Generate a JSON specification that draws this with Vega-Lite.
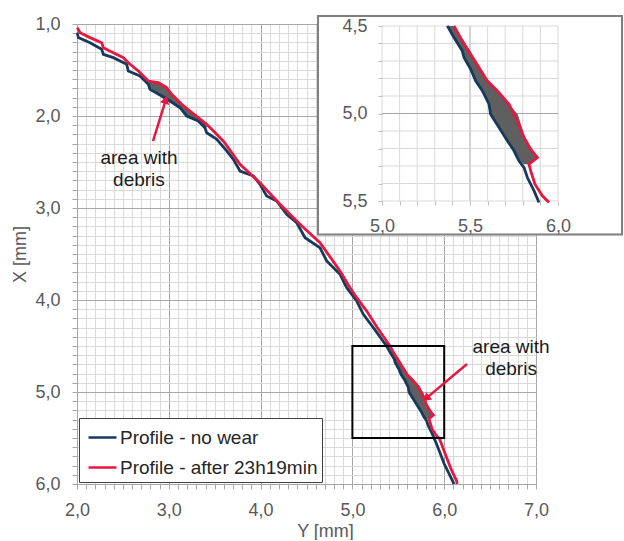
{
  "$schema": "https://vega.github.io/schema/vega-lite/v6.json",
  "padding": {"left": 11, "top": 14, "right": 0, "bottom": 0},
  "width": 459,
  "height": 460,
  "config": {
    "font": "Liberation Sans",
    "view": {"stroke": null},
    "axis": {"titleFontWeight": "normal", "labelColor": "#595959", "titleColor": "#595959", "labelFont": "Liberation Sans", "titleFont": "Liberation Sans"}
  },
  "datasets": {
    "curves": [
      {"series": "Profile - no wear", "Y": 2.003, "X": 1.094},
      {"series": "Profile - no wear", "Y": 2.014, "X": 1.148},
      {"series": "Profile - no wear", "Y": 2.142, "X": 1.203},
      {"series": "Profile - no wear", "Y": 2.269, "X": 1.275},
      {"series": "Profile - no wear", "Y": 2.287, "X": 1.330},
      {"series": "Profile - no wear", "Y": 2.396, "X": 1.366},
      {"series": "Profile - no wear", "Y": 2.541, "X": 1.438},
      {"series": "Profile - no wear", "Y": 2.559, "X": 1.511},
      {"series": "Profile - no wear", "Y": 2.686, "X": 1.565},
      {"series": "Profile - no wear", "Y": 2.777, "X": 1.656},
      {"series": "Profile - no wear", "Y": 2.795, "X": 1.710},
      {"series": "Profile - no wear", "Y": 2.922, "X": 1.783},
      {"series": "Profile - no wear", "Y": 3.013, "X": 1.837},
      {"series": "Profile - no wear", "Y": 3.122, "X": 1.910},
      {"series": "Profile - no wear", "Y": 3.195, "X": 2.000},
      {"series": "Profile - no wear", "Y": 3.321, "X": 2.054},
      {"series": "Profile - no wear", "Y": 3.394, "X": 2.127},
      {"series": "Profile - no wear", "Y": 3.413, "X": 2.182},
      {"series": "Profile - no wear", "Y": 3.520, "X": 2.250},
      {"series": "Profile - no wear", "Y": 3.631, "X": 2.380},
      {"series": "Profile - no wear", "Y": 3.703, "X": 2.471},
      {"series": "Profile - no wear", "Y": 3.776, "X": 2.598},
      {"series": "Profile - no wear", "Y": 3.921, "X": 2.652},
      {"series": "Profile - no wear", "Y": 3.993, "X": 2.742},
      {"series": "Profile - no wear", "Y": 4.066, "X": 2.870},
      {"series": "Profile - no wear", "Y": 4.175, "X": 2.924},
      {"series": "Profile - no wear", "Y": 4.284, "X": 3.069},
      {"series": "Profile - no wear", "Y": 4.393, "X": 3.160},
      {"series": "Profile - no wear", "Y": 4.484, "X": 3.323},
      {"series": "Profile - no wear", "Y": 4.647, "X": 3.432},
      {"series": "Profile - no wear", "Y": 4.720, "X": 3.576},
      {"series": "Profile - no wear", "Y": 4.865, "X": 3.721},
      {"series": "Profile - no wear", "Y": 4.938, "X": 3.866},
      {"series": "Profile - no wear", "Y": 5.047, "X": 4.011},
      {"series": "Profile - no wear", "Y": 5.119, "X": 4.156},
      {"series": "Profile - no wear", "Y": 5.250, "X": 4.330},
      {"series": "Profile - no wear", "Y": 5.371, "X": 4.499},
      {"series": "Profile - no wear", "Y": 5.409, "X": 4.566},
      {"series": "Profile - no wear", "Y": 5.456, "X": 4.642},
      {"series": "Profile - no wear", "Y": 5.466, "X": 4.680},
      {"series": "Profile - no wear", "Y": 5.504, "X": 4.747},
      {"series": "Profile - no wear", "Y": 5.532, "X": 4.813},
      {"series": "Profile - no wear", "Y": 5.570, "X": 4.870},
      {"series": "Profile - no wear", "Y": 5.608, "X": 4.947},
      {"series": "Profile - no wear", "Y": 5.617, "X": 5.004},
      {"series": "Profile - no wear", "Y": 5.665, "X": 5.080},
      {"series": "Profile - no wear", "Y": 5.712, "X": 5.156},
      {"series": "Profile - no wear", "Y": 5.750, "X": 5.213},
      {"series": "Profile - no wear", "Y": 5.778, "X": 5.270},
      {"series": "Profile - no wear", "Y": 5.807, "X": 5.309},
      {"series": "Profile - no wear", "Y": 5.826, "X": 5.366},
      {"series": "Profile - no wear", "Y": 5.864, "X": 5.442},
      {"series": "Profile - no wear", "Y": 5.892, "X": 5.509},
      {"series": "Profile - no wear", "Y": 5.918, "X": 5.568},
      {"series": "Profile - no wear", "Y": 6.000, "X": 5.780},
      {"series": "Profile - no wear", "Y": 6.100, "X": 5.985},
      {"series": "Profile - no wear", "Y": 6.105, "X": 6.000},
      {"series": "Profile - after 23h19min", "Y": 2.003, "X": 1.040},
      {"series": "Profile - after 23h19min", "Y": 2.033, "X": 1.094},
      {"series": "Profile - after 23h19min", "Y": 2.142, "X": 1.148},
      {"series": "Profile - after 23h19min", "Y": 2.269, "X": 1.203},
      {"series": "Profile - after 23h19min", "Y": 2.287, "X": 1.258},
      {"series": "Profile - after 23h19min", "Y": 2.396, "X": 1.312},
      {"series": "Profile - after 23h19min", "Y": 2.505, "X": 1.366},
      {"series": "Profile - after 23h19min", "Y": 2.559, "X": 1.421},
      {"series": "Profile - after 23h19min", "Y": 2.668, "X": 1.511},
      {"series": "Profile - after 23h19min", "Y": 2.777, "X": 1.620},
      {"series": "Profile - after 23h19min", "Y": 2.886, "X": 1.638},
      {"series": "Profile - after 23h19min", "Y": 2.977, "X": 1.692},
      {"series": "Profile - after 23h19min", "Y": 3.032, "X": 1.764},
      {"series": "Profile - after 23h19min", "Y": 3.141, "X": 1.873},
      {"series": "Profile - after 23h19min", "Y": 3.231, "X": 1.946},
      {"series": "Profile - after 23h19min", "Y": 3.321, "X": 2.018},
      {"series": "Profile - after 23h19min", "Y": 3.413, "X": 2.090},
      {"series": "Profile - after 23h19min", "Y": 3.522, "X": 2.199},
      {"series": "Profile - after 23h19min", "Y": 3.600, "X": 2.280},
      {"series": "Profile - after 23h19min", "Y": 3.776, "X": 2.525},
      {"series": "Profile - after 23h19min", "Y": 3.993, "X": 2.725},
      {"series": "Profile - after 23h19min", "Y": 4.211, "X": 2.960},
      {"series": "Profile - after 23h19min", "Y": 4.429, "X": 3.177},
      {"series": "Profile - after 23h19min", "Y": 4.647, "X": 3.377},
      {"series": "Profile - after 23h19min", "Y": 4.865, "X": 3.685},
      {"series": "Profile - after 23h19min", "Y": 4.974, "X": 3.866},
      {"series": "Profile - after 23h19min", "Y": 5.047, "X": 3.975},
      {"series": "Profile - after 23h19min", "Y": 5.156, "X": 4.120},
      {"series": "Profile - after 23h19min", "Y": 5.270, "X": 4.300},
      {"series": "Profile - after 23h19min", "Y": 5.409, "X": 4.499},
      {"series": "Profile - after 23h19min", "Y": 5.456, "X": 4.585},
      {"series": "Profile - after 23h19min", "Y": 5.504, "X": 4.661},
      {"series": "Profile - after 23h19min", "Y": 5.551, "X": 4.737},
      {"series": "Profile - after 23h19min", "Y": 5.598, "X": 4.813},
      {"series": "Profile - after 23h19min", "Y": 5.655, "X": 4.870},
      {"series": "Profile - after 23h19min", "Y": 5.722, "X": 4.947},
      {"series": "Profile - after 23h19min", "Y": 5.769, "X": 5.042},
      {"series": "Profile - after 23h19min", "Y": 5.807, "X": 5.137},
      {"series": "Profile - after 23h19min", "Y": 5.845, "X": 5.204},
      {"series": "Profile - after 23h19min", "Y": 5.883, "X": 5.251},
      {"series": "Profile - after 23h19min", "Y": 5.835, "X": 5.290},
      {"series": "Profile - after 23h19min", "Y": 5.845, "X": 5.328},
      {"series": "Profile - after 23h19min", "Y": 5.869, "X": 5.404},
      {"series": "Profile - after 23h19min", "Y": 5.911, "X": 5.470},
      {"series": "Profile - after 23h19min", "Y": 5.949, "X": 5.509},
      {"series": "Profile - after 23h19min", "Y": 6.027, "X": 5.714},
      {"series": "Profile - after 23h19min", "Y": 6.080, "X": 5.850},
      {"series": "Profile - after 23h19min", "Y": 6.136, "X": 5.967},
      {"series": "Profile - after 23h19min", "Y": 6.140, "X": 6.000}
    ],
    "debris": [
      {"g": "a", "X": 1.620, "lo": 2.740, "hi": 2.777},
      {"g": "a", "X": 1.638, "lo": 2.760, "hi": 2.886},
      {"g": "a", "X": 1.692, "lo": 2.800, "hi": 2.977},
      {"g": "a", "X": 1.764, "lo": 2.900, "hi": 3.032},
      {"g": "a", "X": 1.837, "lo": 3.013, "hi": 3.110},
      {"g": "a", "X": 1.910, "lo": 3.122, "hi": 3.190},
      {"g": "a", "X": 2.000, "lo": 3.195, "hi": 3.300},
      {"g": "a", "X": 2.054, "lo": 3.321, "hi": 3.370},
      {"g": "a", "X": 2.120, "lo": 3.394, "hi": 3.420},
      {"g": "b", "X": 4.460, "lo": 5.340, "hi": 5.380},
      {"g": "b", "X": 4.500, "lo": 5.371, "hi": 5.409},
      {"g": "b", "X": 4.566, "lo": 5.409, "hi": 5.452},
      {"g": "b", "X": 4.642, "lo": 5.456, "hi": 5.500},
      {"g": "b", "X": 4.747, "lo": 5.504, "hi": 5.557},
      {"g": "b", "X": 4.813, "lo": 5.532, "hi": 5.598},
      {"g": "b", "X": 4.870, "lo": 5.570, "hi": 5.655},
      {"g": "b", "X": 4.947, "lo": 5.608, "hi": 5.722},
      {"g": "b", "X": 5.004, "lo": 5.617, "hi": 5.771},
      {"g": "b", "X": 5.080, "lo": 5.665, "hi": 5.795},
      {"g": "b", "X": 5.156, "lo": 5.712, "hi": 5.817},
      {"g": "b", "X": 5.213, "lo": 5.750, "hi": 5.850},
      {"g": "b", "X": 5.251, "lo": 5.768, "hi": 5.883},
      {"g": "b", "X": 5.290, "lo": 5.805, "hi": 5.835}
    ],
    "box": [{"Y1": 5.0, "Y2": 6.0, "X1": 4.5, "X2": 5.5}],
    "insetGridY": [{"v": 5.0}, {"v": 5.1}, {"v": 5.2}, {"v": 5.3}, {"v": 5.4}, {"v": 5.5}, {"v": 5.6}, {"v": 5.7}, {"v": 5.8}, {"v": 5.9}, {"v": 6.0}],
    "insetGridX": [{"v": 4.5}, {"v": 4.6}, {"v": 4.7}, {"v": 4.8}, {"v": 4.9}, {"v": 5.0}, {"v": 5.1}, {"v": 5.2}, {"v": 5.3}, {"v": 5.4}, {"v": 5.5}]
  },
  "resolve": {"scale": {"x": "independent", "y": "independent"}, "axis": {"x": "independent", "y": "independent"}},
  "layer": [
    {
      "layer": [
        {
          "data": {"name": "debris"},
          "mark": {"type": "area", "orient": "horizontal", "color": "#5f5f5f"},
          "encoding": {
            "y": {"field": "X", "type": "quantitative", "scale": {"domain": [1, 6], "reverse": true, "nice": false, "zero": false}},
            "x": {"field": "lo", "type": "quantitative", "scale": {"domain": [2, 7], "nice": false, "zero": false}, "stack": null},
            "x2": {"field": "hi"},
            "detail": {"field": "g"}
          }
        },
        {
          "data": {"name": "curves"},
          "mark": {"type": "line", "strokeWidth": 2.8},
          "encoding": {
            "x": {
              "field": "Y", "type": "quantitative",
              "scale": {"domain": [2, 7], "nice": false, "zero": false},
              "axis": {
                "orient": "bottom", "title": "Y [mm]", "tickCount": 100,
                "values": [2.0,2.1,2.2,2.3,2.4,2.5,2.6,2.7,2.8,2.9,3.0,3.1,3.2,3.3,3.4,3.5,3.6,3.7,3.8,3.9,4.0,4.1,4.2,4.3,4.4,4.5,4.6,4.7,4.8,4.9,5.0,5.1,5.2,5.3,5.4,5.5,5.6,5.7,5.8,5.9,6.0,6.1,6.2,6.3,6.4,6.5,6.6,6.7,6.8,6.9,7.0],
                "labelExpr": "abs(datum.value - round(datum.value)) < 0.001 ? replace(format(datum.value, '.1f'), '.', ',') : ''",
                "labelOverlap": false, "labelFlush": false,
                "labelFontSize": 18, "labelPadding": 12,
                "tickSize": 5, "tickColor": "#a6a6a6", "domainColor": "#a6a6a6",
                "grid": true,
                "gridColor": {"condition": {"test": "abs(datum.value - round(datum.value)) < 0.001", "value": "#a6a6a6"}, "value": "#d9d9d9"},
                "titleFontSize": 18, "titleX": 248, "titleY": 52, "titleBaseline": "alphabetic", "titleAlign": "center"
              }
            },
            "y": {
              "field": "X", "type": "quantitative",
              "scale": {"domain": [1, 6], "reverse": true, "nice": false, "zero": false},
              "axis": {
                "orient": "left", "title": "X [mm]", "tickCount": 100,
                "values": [1.0,1.1,1.2,1.3,1.4,1.5,1.6,1.7,1.8,1.9,2.0,2.1,2.2,2.3,2.4,2.5,2.6,2.7,2.8,2.9,3.0,3.1,3.2,3.3,3.4,3.5,3.6,3.7,3.8,3.9,4.0,4.1,4.2,4.3,4.4,4.5,4.6,4.7,4.8,4.9,5.0,5.1,5.2,5.3,5.4,5.5,5.6,5.7,5.8,5.9,6.0],
                "labelExpr": "abs(datum.value - round(datum.value)) < 0.001 ? replace(format(datum.value, '.1f'), '.', ',') : ''",
                "labelOverlap": false, "labelFlush": false,
                "labelFontSize": 18, "labelPadding": 12,
                "tickSize": 5, "tickColor": "#a6a6a6", "domainColor": "#a6a6a6",
                "grid": true,
                "gridColor": {"condition": {"test": "abs(datum.value - round(datum.value)) < 0.001", "value": "#a6a6a6"}, "value": "#d9d9d9"},
                "titleFontSize": 18, "titleX": -57, "titleY": 230, "titleAngle": -90, "titleBaseline": "middle", "titleAlign": "center"
              }
            },
            "color": {
              "field": "series", "type": "nominal",
              "scale": {"domain": ["Profile - no wear", "Profile - after 23h19min"], "range": ["#163a5c", "#e8173f"]},
              "legend": {
                "title": null, "orient": "bottom-left", "offset": 2, "padding": 4,
                "strokeColor": "#404040", "fillColor": "white",
                "symbolType": "stroke", "symbolStrokeWidth": 2.5, "symbolSize": 784,
                "symbolOffset": 4, "labelOffset": 2, "rowPadding": 4,
                "labelFontSize": 19, "labelColor": "#262626", "labelLimit": 400
              }
            },
            "order": {"field": "X", "type": "quantitative"}
          }
        },
        {
          "data": {"name": "box"},
          "mark": {"type": "rect", "fillOpacity": 0, "stroke": "#000000", "strokeWidth": 2},
          "encoding": {
            "x": {"field": "Y1", "type": "quantitative"},
            "x2": {"field": "Y2"},
            "y": {"field": "X1", "type": "quantitative"},
            "y2": {"field": "X2"}
          }
        },
        {
          "data": {"values": [{}]},
          "mark": {"type": "rule", "color": "#e8173f", "strokeWidth": 2.5},
          "encoding": {
            "x": {"datum": 2.828, "type": "quantitative"},
            "y": {"datum": 2.272, "type": "quantitative"},
            "x2": {"datum": 2.975},
            "y2": {"datum": 1.80}
          }
        },
        {
          "data": {"values": [{}]},
          "mark": {"type": "rule", "color": "#e8173f", "strokeWidth": 2.5},
          "encoding": {
            "x": {"datum": 6.248, "type": "quantitative"},
            "y": {"datum": 4.696, "type": "quantitative"},
            "x2": {"datum": 5.79},
            "y2": {"datum": 5.08}
          }
        },
        {
          "data": {"values": [{}]},
          "mark": {"type": "point", "shape": "triangle-up", "filled": true, "color": "#e8173f", "size": 90, "angle": 17, "opacity": 1},
          "encoding": {
            "x": {"datum": 2.967, "type": "quantitative"},
            "y": {"datum": 1.824, "type": "quantitative"}
          }
        },
        {
          "data": {"values": [{}]},
          "mark": {"type": "point", "shape": "triangle-up", "filled": true, "color": "#e8173f", "size": 90, "angle": 230, "opacity": 1},
          "encoding": {
            "x": {"datum": 5.802, "type": "quantitative"},
            "y": {"datum": 5.070, "type": "quantitative"}
          }
        },
        {
          "data": {"values": [{}]},
          "mark": {"type": "text", "align": "center", "baseline": "alphabetic", "fontSize": 19, "lineHeight": 22, "color": "#1a1a1a", "text": ["area with", "debris"]},
          "encoding": {
            "x": {"datum": 2.675, "type": "quantitative"},
            "y": {"datum": 2.522, "type": "quantitative"}
          }
        },
        {
          "data": {"values": [{}]},
          "mark": {"type": "text", "align": "center", "baseline": "alphabetic", "fontSize": 19, "lineHeight": 22, "color": "#1a1a1a", "text": ["area with", "debris"]},
          "encoding": {
            "x": {"datum": 6.728, "type": "quantitative"},
            "y": {"datum": 4.576, "type": "quantitative"}
          }
        },
        {
          "data": {"values": [{}]},
          "mark": {"type": "rect", "fill": "white", "stroke": "#7f7f7f", "strokeWidth": 2},
          "encoding": {
            "x": {"datum": 4.625, "type": "quantitative"},
            "x2": {"datum": 7.937},
            "y": {"datum": 0.913, "type": "quantitative"},
            "y2": {"datum": 3.288}
          }
        }
      ]
    },
    {
      "layer": [
        {
          "data": {"name": "insetGridY"},
          "mark": {"type": "rule", "strokeWidth": 1},
          "encoding": {
            "x": {"field": "v", "type": "quantitative", "scale": {"domain": [5, 6], "range": [305, 481], "nice": false, "zero": false}},
            "y": {"datum": 4.5, "type": "quantitative", "scale": {"domain": [4.5, 5.5], "range": [2, 177], "nice": false, "zero": false}},
            "y2": {"datum": 5.5},
            "color": {"condition": {"test": "abs(datum.v - 5.5) < 0.001", "value": "#a6a6a6"}, "value": "#d9d9d9"}
          }
        },
        {
          "data": {"name": "insetGridX"},
          "mark": {"type": "rule", "strokeWidth": 1},
          "encoding": {
            "y": {"field": "v", "type": "quantitative", "scale": {"domain": [4.5, 5.5], "range": [2, 177], "nice": false, "zero": false}},
            "x": {"datum": 5.0, "type": "quantitative", "scale": {"domain": [5, 6], "range": [305, 481], "nice": false, "zero": false}},
            "x2": {"datum": 6.0},
            "color": {"condition": {"test": "abs(datum.v - 5.0) < 0.001", "value": "#a6a6a6"}, "value": "#d9d9d9"}
          }
        },
        {
          "data": {"name": "debris"},
          "transform": [{"filter": "datum.X >= 4.49 && datum.X <= 5.515"}],
          "mark": {"type": "area", "orient": "horizontal", "color": "#5f5f5f"},
          "encoding": {
            "y": {"field": "X", "type": "quantitative", "scale": {"domain": [4.5, 5.5], "range": [2, 177], "nice": false, "zero": false}},
            "x": {"field": "lo", "type": "quantitative", "scale": {"domain": [5, 6], "range": [305, 481], "nice": false, "zero": false}, "stack": null},
            "x2": {"field": "hi"},
            "detail": {"field": "g"}
          }
        },
        {
          "data": {"name": "curves"},
          "transform": [{"filter": "datum.X >= 4.49 && datum.X <= 5.515"}],
          "mark": {"type": "line", "strokeWidth": 2.8},
          "encoding": {
            "x": {
              "field": "Y", "type": "quantitative",
              "scale": {"domain": [5, 6], "range": [305, 481], "nice": false, "zero": false},
              "axis": {
                "orient": "top", "title": null, "offset": -181, "zindex": 1, "tickCount": 100,
                "values": [5.0,5.1,5.2,5.3,5.4,5.5,5.6,5.7,5.8,5.9,6.0],
                "labelExpr": "abs(datum.value * 2 - round(datum.value * 2)) < 0.001 ? replace(format(datum.value, '.1f'), '.', ',') : ''",
                "labelOverlap": false, "labelFlush": false,
                "labelFontSize": 18, "labelPadding": -30, "labelBaseline": "alphabetic",
                "tickSize": 4, "tickColor": "#bfbfbf", "domain": false,
                "grid": false
              }
            },
            "y": {
              "field": "X", "type": "quantitative",
              "scale": {"domain": [4.5, 5.5], "range": [2, 177], "nice": false, "zero": false},
              "axis": {
                "orient": "left", "title": null, "offset": -305, "zindex": 1, "tickCount": 100,
                "values": [4.5,4.6,4.7,4.8,4.9,5.0,5.1,5.2,5.3,5.4,5.5],
                "labelExpr": "abs(datum.value * 2 - round(datum.value * 2)) < 0.001 ? replace(format(datum.value, '.1f'), '.', ',') : ''",
                "labelOverlap": false, "labelFlush": false,
                "labelFontSize": 18, "labelPadding": 11,
                "tickSize": 4, "tickColor": "#bfbfbf", "domain": false,
                "grid": false
              }
            },
            "color": {
              "field": "series", "type": "nominal",
              "scale": {"domain": ["Profile - no wear", "Profile - after 23h19min"], "range": ["#163a5c", "#e8173f"]},
              "legend": null
            },
            "order": {"field": "X", "type": "quantitative"}
          }
        }
      ]
    }
  ]
}
